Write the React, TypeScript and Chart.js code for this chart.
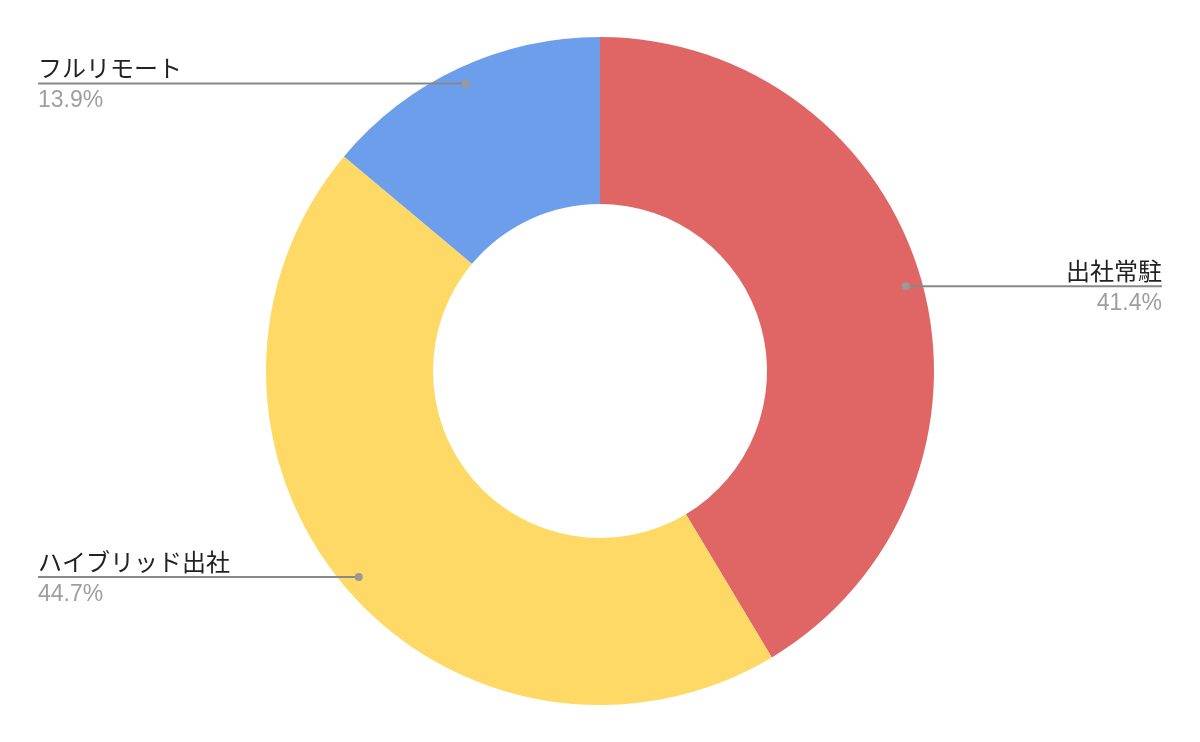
import React, { useEffect, useRef } from "react";
import { Chart, registerables } from "chart.js";

Chart.register(...registerables);

const categories = ["出社常駐", "ハイブリッド出社", "フルリモート"];
const values = [41.4, 44.7, 13.9];
const percentLabels = ["41.4%", "44.7%", "13.9%"];
const colors = ["#E06666", "#FFD966", "#6D9EEB"];

const labelPlugin = {
  id: "leaderLabels",
  afterDatasetsDraw(chart: any) {
    const ctx = chart.ctx;
    const meta = chart.getDatasetMeta(0);
    const W = chart.width;
    const leftX = 38;
    const rightX = W - 38;
    meta.data.forEach((arc: any, i: number) => {
      const p = arc.getProps(["x", "y", "startAngle", "endAngle", "outerRadius"], true);
      const mid = (p.startAngle + p.endAngle) / 2;
      const r = p.outerRadius * 0.95;
      const dx = p.x + Math.cos(mid) * r;
      const dy = p.y + Math.sin(mid) * r;
      const isRight = Math.cos(mid) >= 0;
      const endX = isRight ? rightX : leftX;
      ctx.save();
      ctx.strokeStyle = "#888888";
      ctx.lineWidth = 2;
      ctx.beginPath();
      ctx.moveTo(dx, dy);
      ctx.lineTo(endX, dy);
      ctx.stroke();
      ctx.fillStyle = "#999999";
      ctx.beginPath();
      ctx.arc(dx, dy, 4, 0, Math.PI * 2);
      ctx.fill();
      ctx.textAlign = isRight ? "right" : "left";
      ctx.textBaseline = "alphabetic";
      ctx.font = "24px Roboto, 'Noto Sans CJK JP', sans-serif";
      ctx.fillStyle = "#222222";
      ctx.fillText(categories[i], endX, dy - 6);
      ctx.font = "23px 'Liberation Sans', Arial, sans-serif";
      ctx.fillStyle = "#9E9E9E";
      ctx.fillText(percentLabels[i], endX, dy + 24);
      ctx.restore();
    });
  },
};

export default function App() {
  const ref = useRef<HTMLCanvasElement>(null);
  useEffect(() => {
    document.body.style.margin = "0";
    const chart = new Chart(ref.current as HTMLCanvasElement, {
      type: "doughnut",
      data: {
        labels: categories,
        datasets: [
          {
            data: values,
            backgroundColor: colors,
            borderWidth: 0,
          },
        ],
      },
      options: {
        animation: false,
        responsive: false,
        cutout: "50%",
        layout: { padding: { top: 37, bottom: 37 } },
        plugins: {
          legend: { display: false },
          tooltip: { enabled: false },
        },
      },
      plugins: [labelPlugin],
    });
    return () => chart.destroy();
  }, []);
  return (
    <div style={{ width: 1200, height: 742, background: "#fff" }}>
      <canvas ref={ref} width={1200} height={742} style={{ width: 1200, height: 742, display: "block" }} />
    </div>
  );
}
